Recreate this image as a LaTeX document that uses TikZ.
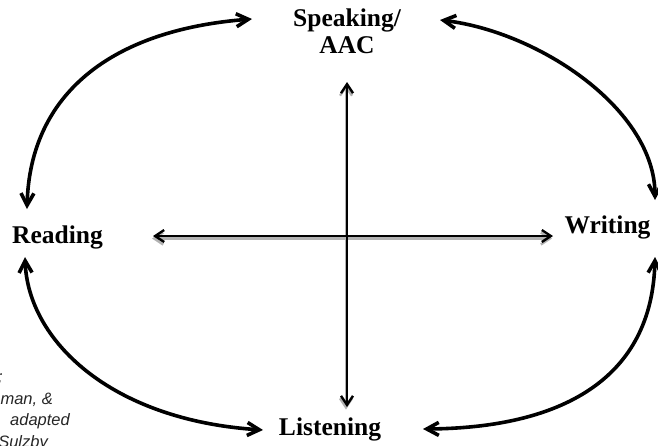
\documentclass[tikz,border=0pt]{standalone}
\usepackage{fontspec}
\setmainfont{Liberation Serif}
\newfontfamily\notefont{Liberation Sans}
\usetikzlibrary{arrows.meta}
\begin{document}
\begin{tikzpicture}[x=1pt,y=-1pt,
  lbl/.style={font=\fontsize{25.5}{27}\selectfont\bfseries, inner sep=0pt, align=center},
  note/.style={font=\fontsize{16.5}{21}\selectfont\notefont\itshape, inner sep=0pt, text=black!85},
  arcline/.style={line width=3.6pt, {Straight Barb[length=12pt,width=13pt]}-{Straight Barb[length=12pt,width=13pt]}},
  axisline/.style={line width=2.4pt, {Straight Barb[length=9pt,width=12pt]}-{Straight Barb[length=9pt,width=12pt]}},
  shadowline/.style={axisline, draw=gray!60}]
\useasboundingbox (0,0) rectangle (658,445);

% labels
\node[lbl, anchor=base] (spk) at (347,53) {Speaking/\\AAC};
\node[lbl, anchor=base] (rd) at (57.5,243) {Reading};
\node[lbl, anchor=base] (wr) at (607.5,233) {Writing};
\node[lbl, anchor=base] (ls) at (330,435) {Listening};

% partially visible source note
\node[note, anchor=base east] (n1) at (3,382) {;};
\node[note, anchor=base east] (n2) at (53,404) {man, \&};
\node[note, anchor=base west] (n3) at (10,425) {adapted};
\node[note, anchor=base east] (n4) at (48,447) {Sulzby};

% connector end points
\coordinate (spk-s) at (347,82);
\coordinate (ls-n) at (347,407);
\coordinate (rd-e) at (153,236);
\coordinate (wr-w) at (553,236);
\coordinate (spk-w) at (252,19);
\coordinate (spk-e) at (440,20);
\coordinate (rd-n) at (27,209);
\coordinate (rd-s) at (25,257);
\coordinate (wr-n) at (655,200);
\coordinate (wr-s) at (655,257);
\coordinate (ls-w) at (263,430);
\coordinate (ls-e) at (423,429);

% shadowed cross
\draw[shadowline] ([shift={(-1,2.5)}]rd-e) -- ([shift={(-1,2.5)}]wr-w);
\draw[shadowline] ([shift={(-1,2.5)}]spk-s) -- ([shift={(-1,2.5)}]ls-n);
\draw[axisline] (rd-e) -- (wr-w);
\draw[axisline] (spk-s) -- (ls-n);

% outer arcs
\draw[arcline] (rd-n) .. controls (30,95) and (110,30) .. (spk-w);
\draw[arcline] (spk-e) .. controls (540,32) and (655,110) .. (wr-n);
\draw[arcline] (wr-s) .. controls (652,380) and (560,428) .. (ls-e);
\draw[arcline] (rd-s) .. controls (28,340) and (110,420) .. (ls-w);
\end{tikzpicture}
\end{document}
